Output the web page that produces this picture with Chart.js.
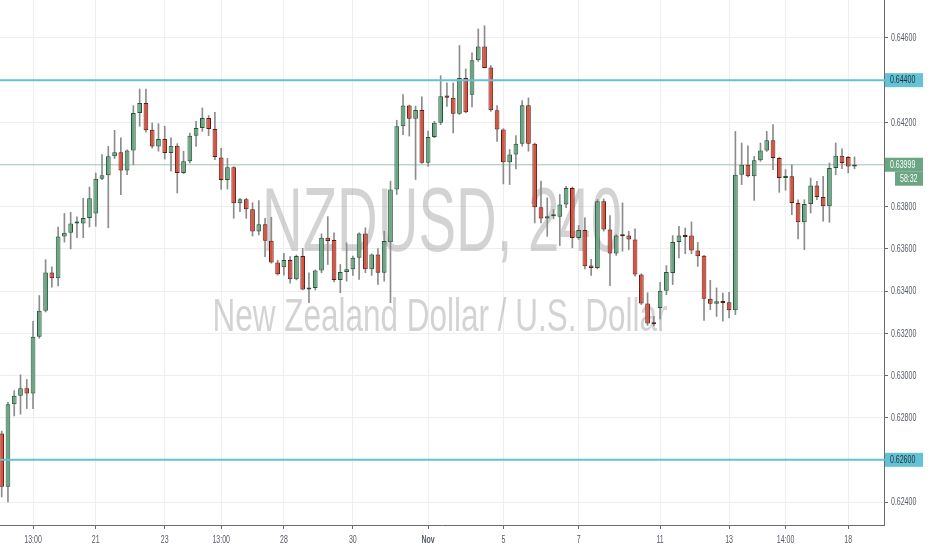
<!DOCTYPE html>
<html>
<head>
<meta charset="utf-8">
<title>NZDUSD, 240</title>
<script src="https://cdn.jsdelivr.net/npm/chart.js"></script>
<style>
  html, body { margin: 0; padding: 0; background: #fff; }
  #wrap { width: 932px; height: 550px; }
</style>
</head>
<body>
<div id="wrap"><canvas id="chart"></canvas></div>
<script>
// 4h candles
const opens = [
  .62725, .62472, .62864, .62904, .62939, .62915, .63184, .63307, .63488, .63461,
  .63659, .63677, .63720, .63720, .63747, .63768, .63933, .63949, .64039, .64058,
  .63972, .64066, .64244, .64292, .64165, .64086, .64121, .64055, .64089, .63960,
  .64015, .64137, .64173, .64220, .64168, .64033, .63927, .63987, .63816, .63835,
  .63788, .63682, .63717, .63639, .63535, .63513, .63547, .63456, .63566, .63408,
  .63415, .63497, .63653, .63642, .63452, .63490, .63503, .63558, .63673, .63503,
  .63574, .63487, .63632, .63882, .64182, .64280, .64217, .64258, .64008, .64131,
  .64198, .64327, .64316, .64241, .64410, .64331, .64494, .64560, .64460, .64257,
  .64166, .64011, .64047, .64099, .64281, .64099, .63797, .63744, .63755, .63752,
  .63810, .63889, .63652, .63689, .63521, .63510, .63826, .63692, .63578, .63663,
  .63663, .63645, .63479, .63341, .63249, .63320, .63402, .63486, .63633, .63663,
  .63663, .63592, .63568, .63364, .63340, .63352, .63347, .63309, .63952, .63999,
  .63944, .64020, .64067, .64115, .64031, .63936, .63944, .63818, .63726, .63813,
  .63900, .63846, .63802, .63984, .64042, .64036, .63991
];
const highs = [
  .62736, .62872, .62928, .63003, .62981, .63256, .63379, .63549, .63515, .63704,
  .63768, .63773, .63752, .63840, .63893, .63960, .64047, .64086, .64162, .64126,
  .64070, .64279, .64358, .64358, .64197, .64194, .64181, .64126, .64099, .64063,
  .64149, .64205, .64268, .64232, .64247, .64077, .64029, .63990, .63840, .63840,
  .63819, .63829, .63745, .63750, .63547, .63579, .63563, .63571, .63603, .63487,
  .63500, .63671, .63753, .63676, .63526, .63629, .63566, .63676, .63700, .63576,
  .63601, .63684, .63921, .64210, .64332, .64282, .64277, .64321, .64158, .64205,
  .64421, .64387, .64387, .64564, .64453, .64529, .64643, .64658, .64469, .64280,
  .64170, .64071, .64137, .64303, .64316, .64102, .63921, .63842, .63787, .63858,
  .63897, .63894, .63711, .63747, .63550, .63834, .63837, .63758, .63668, .63818,
  .63684, .63695, .63482, .63392, .63280, .63442, .63521, .63663, .63707, .63699,
  .63728, .63631, .63570, .63451, .63415, .63391, .63394, .64157, .64102, .64089,
  .64039, .64102, .64157, .64189, .64035, .63976, .63999, .63833, .63833, .63936,
  .63920, .63944, .64007, .64102, .64074, .64039, .64036
];
const lows = [
  .62424, .62400, .62808, .62816, .62843, .62843, .63176, .63301, .63419, .63424,
  .63632, .63600, .63653, .63653, .63704, .63707, .63928, .63700, .64028, .63857,
  .63952, .63999, .64181, .64153, .64078, .64063, .64026, .63968, .63865, .63957,
  .64007, .64086, .64157, .64137, .64023, .63882, .63884, .63745, .63777, .63745,
  .63661, .63666, .63563, .63532, .63476, .63476, .63437, .63453, .63405, .63345,
  .63405, .63487, .63526, .63443, .63392, .63447, .63474, .63455, .63487, .63474,
  .63431, .63447, .63345, .63858, .64142, .64135, .63929, .64005, .63992, .64127,
  .64189, .64276, .64150, .64237, .64245, .64273, .64489, .64458, .64252, .64110,
  .63908, .63905, .63979, .64087, .64063, .63723, .63723, .63660, .63742, .63616,
  .63795, .63605, .63645, .63505, .63474, .63505, .63684, .63426, .63569, .63589,
  .63597, .63471, .63336, .63237, .63235, .63268, .63383, .63431, .63557, .63577,
  .63577, .63517, .63261, .63312, .63280, .63257, .63273, .63288, .63905, .63941,
  .63830, .64015, .64062, .63976, .63868, .63878, .63762, .63647, .63596, .63770,
  .63833, .63731, .63726, .63952, .63980, .63960, .63980
];
const closes = [
  .62472, .62864, .62904, .62939, .62915, .63184, .63307, .63488, .63461, .63659,
  .63677, .63720, .63722, .63747, .63840, .63933, .63949, .64039, .64058, .63972,
  .64066, .64244, .64292, .64162, .64086, .64121, .64055, .64089, .63960, .64015,
  .64137, .64173, .64220, .64168, .64036, .63927, .63987, .63816, .63835, .63788,
  .63682, .63717, .63639, .63535, .63480, .63547, .63456, .63566, .63408, .63415,
  .63497, .63653, .63638, .63452, .63490, .63503, .63558, .63673, .63503, .63574,
  .63487, .63637, .63882, .64182, .64280, .64217, .64258, .64008, .64131, .64198,
  .64324, .64316, .64241, .64410, .64248, .64494, .64560, .64458, .64257, .64166,
  .64011, .64047, .64099, .64281, .64099, .63797, .63744, .63755, .63758, .63810,
  .63889, .63652, .63689, .63518, .63510, .63826, .63692, .63578, .63663, .63660,
  .63645, .63479, .63341, .63246, .63243, .63402, .63491, .63633, .63663, .63656,
  .63592, .63565, .63364, .63340, .63352, .63344, .63309, .63952, .63999, .63944,
  .64020, .64067, .64115, .64031, .63936, .63944, .63818, .63726, .63813, .63900,
  .63846, .63802, .63984, .64042, .64007, .63991, .63999
];

// time axis labels and the candle they sit on
const tickIdx = [5, 15, 26, 35, 45, 56, 68, 80, 92, 105, 116, 125, 135];
const tickText = ['13:00', '21', '23', '13:00', '28', '30', 'Nov', '5', '7', '11', '13', '14:00', '18'];

// horizontal levels drawn on the chart
const levels = [0.644, 0.626];
const lastPrice = 0.63999;
const countdown = '58:32';
const title = 'NZDUSD, 240';
const subtitle = 'New Zealand Dollar / U.S. Dollar';

const FONT = "'Liberation Sans', Arial, sans-serif";
const SQUEEZE = 0.7; // the screenshot's text is narrow
const TXT = '#555a66';
const UP = '#6ba583', UP_B = '#225437', DN = '#d75442', DN_B = '#5b1a13';
const CYAN = '#63c2d5';

const idx = opens.map((_, i) => i);
const isUp = idx.map(i => closes[i] >= opens[i]);

function narrowText(ctx, txt, x, y, align, bold) {
  ctx.save();
  ctx.font = (bold ? 'bold ' : '') + '10px ' + FONT;
  ctx.textAlign = align;
  ctx.textBaseline = 'middle';
  ctx.translate(x, y);
  ctx.scale(SQUEEZE, 1);
  ctx.fillText(txt, 0, 0);
  ctx.restore();
}

function box(ctx, y, x0, x1, fill, txt, color) {
  ctx.fillStyle = fill;
  ctx.fillRect(x0, y - 7, x1 - x0, 14);
  ctx.fillStyle = color;
  narrowText(ctx, txt, x0 + 5, y + 0.5, 'left');
}

const overlay = {
  id: 'overlay',
  beforeDatasetsDraw(chart) {
    const { ctx, chartArea: a, scales: { y } } = chart;
    ctx.save();
    ctx.fillStyle = 'rgba(150,150,150,0.42)';
    ctx.textAlign = 'center';
    ctx.textBaseline = 'alphabetic';
    // watermark, squeezed to the width seen in the picture
    [[title, 90, 251, 442, 360], [subtitle, 46, 331, 440, 455]].forEach(([t, size, base, cx, w]) => {
      ctx.font = size + 'px ' + FONT;
      const sx = w / ctx.measureText(t).width;
      ctx.save();
      ctx.translate(cx, base);
      ctx.scale(sx, 1);
      ctx.fillText(t, 0, 0);
      ctx.restore();
    });
    // last price line
    const py = y.getPixelForValue(lastPrice);
    ctx.strokeStyle = 'rgba(107,165,131,0.38)';
    ctx.lineWidth = 1.5;
    ctx.beginPath();
    ctx.moveTo(a.left, py);
    ctx.lineTo(a.right + 4, py);
    ctx.stroke();
    ctx.restore();
  },
  afterDatasetsDraw(chart) {
    const { ctx, chartArea: a, scales: { y } } = chart;
    ctx.save();
    ctx.strokeStyle = CYAN;
    ctx.lineWidth = 2;
    levels.forEach(v => {
      const py = y.getPixelForValue(v);
      ctx.beginPath();
      ctx.moveTo(a.left, py);
      ctx.lineTo(a.right + 4, py);
      ctx.stroke();
    });
    ctx.restore();
  },
  afterDraw(chart) {
    const { ctx, chartArea: a, scales: { x, y } } = chart;
    ctx.save();
    // axis labels from the scales' own ticks
    ctx.fillStyle = TXT;
    y.ticks.forEach(t => narrowText(ctx, t.value.toFixed(5), a.right + 7, y.getPixelForValue(t.value) + 0.5, 'left'));
    x.ticks.forEach(t => {
      const label = tickText[tickIdx.indexOf(t.value)];
      narrowText(ctx, label, x.getPixelForValue(t.value), a.bottom + 15, 'center', label === 'Nov');
    });
    levels.forEach(v => {
      box(ctx, y.getPixelForValue(v), a.right + 1, a.right + 39, CYAN, v.toFixed(5), '#1f2f33');
    });
    const py = y.getPixelForValue(lastPrice);
    box(ctx, py, a.right + 1, a.right + 39, UP, lastPrice.toFixed(5), '#fff');
    box(ctx, py + 14, a.right + 11, a.right + 39, UP, countdown, '#fff');
    ctx.restore();
  }
};

new Chart(document.getElementById('chart'), {
  type: 'bar',
  data: {
    datasets: [
      {
        label: 'wick',
        data: idx.map(i => ({ x: i, y: [lows[i], highs[i]] })),
        backgroundColor: '#8c8c8c',
        barThickness: 1,
        grouped: false,
        order: 2
      },
      {
        label: 'body',
        data: idx.map(i => ({ x: i, y: [opens[i], closes[i]] })),
        backgroundColor: isUp.map(u => u ? UP : DN),
        borderColor: isUp.map(u => u ? UP_B : DN_B),
        borderWidth: 1,
        borderSkipped: false,
        categoryPercentage: 1,
        barPercentage: 0.75,
        minBarLength: 2,
        grouped: false,
        order: 1
      }
    ]
  },
  options: {
    responsive: true,
    maintainAspectRatio: false,
    animation: false,
    layout: { padding: 0 },
    plugins: { legend: { display: false }, tooltip: { enabled: false } },
    scales: {
      x: {
        type: 'linear',
        min: -0.27,
        max: 140.7,
        offset: false,
        afterBuildTicks: s => { s.ticks = tickIdx.map(v => ({ value: v })); },
        afterFit: s => { s.height = 25; s.paddingLeft = 0; s.paddingRight = 0; },
        ticks: { display: false },
        grid: { offset: false, color: '#eeeeee', tickColor: '#6b6b6b', tickLength: 4 },
        border: { color: '#6b6b6b' }
      },
      y: {
        position: 'right',
        min: 0.62291,
        max: 0.6478,
        afterFit: s => { s.width = 48; s.paddingTop = 0; s.paddingBottom = 0; },
        ticks: { display: false, stepSize: 0.002, includeBounds: false },
        grid: { color: '#eeeeee', tickColor: '#6b6b6b', tickLength: 4 },
        border: { color: '#6b6b6b' }
      }
    }
  },
  plugins: [overlay]
});
</script>
</body>
</html>
